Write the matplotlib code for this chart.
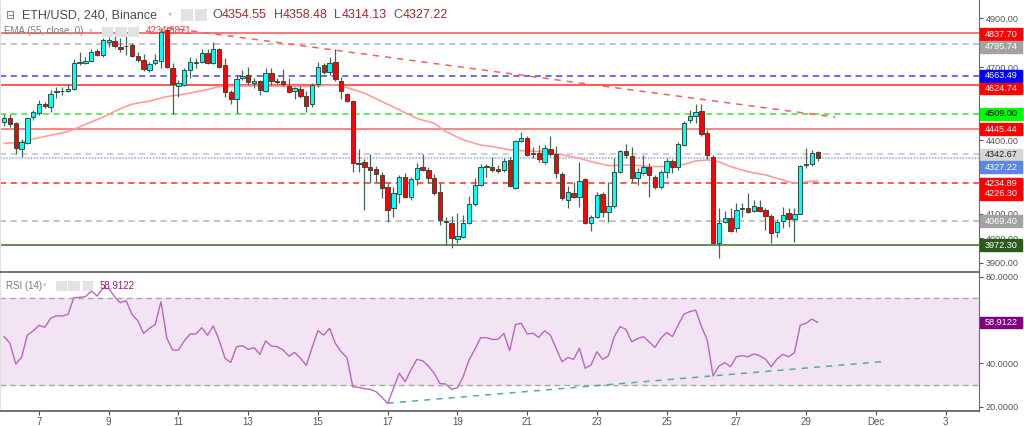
import numpy as np
import matplotlib
matplotlib.use('Agg')
import matplotlib.pyplot as plt
from matplotlib.patches import Rectangle

plt.rcParams['font.family'] = ['Liberation Sans', 'DejaVu Sans']

# ---------------- data (4h candles, ETH/USD Binance) ----------------
opens = [4474, 4490, 4470, 4364, 4388, 4495, 4511, 4550, 4538, 4597,
         4600, 4600, 4610, 4718, 4715, 4725, 4766, 4748, 4801, 4807,
         4782, 4784, 4790, 4747, 4729, 4688, 4715, 4726, 4852, 4695,
         4623, 4627, 4688, 4718, 4719, 4759, 4715, 4773, 4709, 4597,
         4570, 4654, 4668, 4634, 4644, 4602, 4674, 4642, 4642, 4623,
         4600, 4610, 4582, 4548, 4630, 4709, 4679, 4722, 4644, 4590,
         4561, 4306, 4311, 4291, 4283, 4259, 4208, 4125, 4182, 4252,
         4170, 4241, 4291, 4278, 4245, 4188, 4072, 4061, 3997, 4007,
         4061, 4139, 4218, 4293, 4293, 4282, 4279, 4320, 4204, 4398,
         4411, 4343, 4347, 4313, 4364, 4343, 4261, 4157, 4184, 4170,
         4241, 4061, 4088, 4180, 4106, 4133, 4270, 4357, 4338, 4245,
         4266, 4290, 4249, 4211, 4270, 4317, 4293, 4381, 4482, 4501,
         4522, 4429, 4334, 3979, 4068, 4082, 4041, 4121, 4125, 4113,
         4129, 4116, 4092, 4024, 4071, 4102, 4079, 4099, 4298, 4302,
         4354.55]
highs = [4507, 4508, 4477, 4406, 4493, 4525, 4565, 4556, 4606, 4620,
         4620, 4630, 4733, 4760, 4739, 4773, 4773, 4818, 4824, 4831,
         4818, 4831, 4797, 4760, 4752, 4722, 4752, 4861, 4861, 4718,
         4647, 4695, 4739, 4736, 4773, 4773, 4804, 4779, 4736, 4606,
         4668, 4688, 4702, 4654, 4647, 4698, 4698, 4654, 4692, 4654,
         4620, 4624, 4600, 4634, 4719, 4718, 4743, 4773, 4661, 4595,
         4565, 4364, 4324, 4343, 4297, 4272, 4225, 4211, 4259, 4266,
         4252, 4306, 4343, 4293, 4261, 4227, 4088, 4091, 4102, 4095,
         4173, 4245, 4302, 4302, 4334, 4300, 4327, 4334, 4402, 4433,
         4416, 4375, 4381, 4381, 4420, 4377, 4270, 4215, 4231, 4311,
         4245, 4095, 4188, 4191, 4231, 4327, 4361, 4384, 4371, 4286,
         4341, 4306, 4259, 4279, 4330, 4324, 4395, 4480, 4525, 4548,
         4548, 4443, 4341, 4122, 4112, 4122, 4146, 4143, 4184, 4157,
         4157, 4122, 4098, 4079, 4129, 4122, 4125, 4300, 4368, 4361,
         4358.48]
lows = [4460, 4456, 4343, 4334, 4384, 4484, 4504, 4534, 4518, 4575,
        4586, 4597, 4606, 4709, 4711, 4719, 4747, 4743, 4781, 4779,
        4763, 4749, 4739, 4719, 4684, 4681, 4709, 4698, 4695, 4508,
        4579, 4623, 4657, 4698, 4715, 4711, 4711, 4695, 4579, 4548,
        4514, 4647, 4627, 4616, 4586, 4597, 4627, 4630, 4624, 4593,
        4570, 4575, 4518, 4538, 4620, 4670, 4668, 4644, 4570, 4556,
        4270, 4272, 4116, 4225, 4231, 4166, 4068, 4088, 4143, 4163,
        4157, 4218, 4275, 4227, 4177, 4054, 3973, 3962, 3979, 4003,
        4057, 4133, 4215, 4252, 4272, 4266, 4272, 4211, 4202, 4392,
        4338, 4327, 4313, 4304, 4338, 4245, 4157, 4125, 4166, 4129,
        4057, 4030, 4084, 4088, 4065, 4122, 4266, 4327, 4231, 4218,
        4259, 4170, 4202, 4202, 4248, 4266, 4279, 4379, 4470, 4470,
        4420, 4323, 3979, 3918, 4061, 4027, 4027, 4088, 4102, 4109,
        4109, 4034, 3982, 4007, 4043, 4047, 3986, 4098, 4286, 4297,
        4314.13]
closes = [4490, 4467, 4370, 4395, 4490, 4518, 4548, 4540, 4589, 4602,
          4601, 4610, 4715, 4719, 4726, 4763, 4749, 4809, 4811, 4784,
          4773, 4785, 4747, 4729, 4691, 4711, 4729, 4845, 4702, 4630,
          4634, 4688, 4719, 4718, 4756, 4715, 4773, 4702, 4597, 4570,
          4651, 4664, 4638, 4644, 4606, 4674, 4643, 4640, 4630, 4597,
          4613, 4583, 4542, 4627, 4700, 4679, 4718, 4651, 4600, 4561,
          4309, 4305, 4290, 4281, 4262, 4204, 4116, 4187, 4249, 4169,
          4242, 4289, 4278, 4245, 4184, 4075, 4065, 4003, 4011, 4061,
          4139, 4218, 4293, 4291, 4278, 4276, 4316, 4215, 4398, 4409,
          4340, 4350, 4324, 4368, 4343, 4266, 4163, 4188, 4170, 4236,
          4061, 4086, 4177, 4109, 4131, 4272, 4357, 4341, 4245, 4270,
          4290, 4259, 4211, 4270, 4316, 4291, 4384, 4473, 4501, 4518,
          4426, 4341, 3982, 4061, 4082, 4031, 4114, 4122, 4109, 4132,
          4113, 4091, 4020, 4068, 4095, 4079, 4098, 4296, 4302, 4350,
          4327.22]
rsi = [52.4, 49.3, 39.8, 42.8, 53.1, 55.0, 57.6, 56.7, 60.8, 62.0,
       61.9, 62.6, 70.3, 70.5, 70.8, 73.4, 71.1, 74.6, 74.6, 70.8,
       68.0, 68.9, 62.6, 59.7, 53.9, 56.2, 58.0, 68.5, 51.6, 46.2,
       46.2, 50.4, 53.6, 53.6, 56.5, 53.0, 57.3, 50.8, 42.4, 40.5,
       47.7, 48.2, 46.5, 47.3, 44.2, 50.4, 48.0, 47.7, 46.2, 43.4,
       45.1, 42.4, 39.1, 47.4, 55.1, 53.1, 56.2, 49.3, 45.4, 42.7,
       29.3, 29.0, 28.4, 28.1, 27.0, 24.4, 21.6, 28.5, 35.5, 31.6,
       37.0, 41.9, 41.3, 38.8, 35.5, 30.8, 30.5, 28.1, 28.8, 33.9,
       41.6, 46.5, 51.9, 51.9, 51.1, 51.1, 53.9, 45.9, 58.0, 58.5,
       53.6, 53.9, 52.0, 55.1, 53.1, 47.0, 40.8, 42.8, 41.9, 47.0,
       37.8, 39.3, 45.4, 41.9, 43.6, 52.4, 57.0, 55.7, 50.0, 51.4,
       52.4, 50.0, 47.4, 51.6, 54.3, 52.4, 57.7, 62.8, 63.9, 64.6,
       57.0, 50.8, 34.2, 38.8, 40.4, 38.5, 43.1, 43.6, 43.1, 44.4,
       43.6, 42.1, 38.5, 42.1, 44.2, 43.1, 45.0, 57.7, 58.5, 60.5,
       58.9122]
# EMA(55) read at selected candle indices
ema_index = [0, 3, 5, 11, 17, 20, 22, 25, 28, 31, 35, 37, 43, 52, 57, 59,
             62, 65, 68, 71, 74, 76, 79, 82, 84, 87, 90, 93, 96, 99, 101,
             104, 108, 111, 114, 117, 119, 121, 123, 125, 128, 131, 134,
             136, 138, 140]
ema_values = [4388, 4392, 4406, 4436, 4495, 4530, 4548, 4561, 4579, 4589,
              4608, 4620, 4623, 4620, 4627, 4616, 4593, 4559, 4525, 4490,
              4470, 4436, 4402, 4381, 4375, 4361, 4357, 4354, 4341, 4327,
              4313, 4297, 4300, 4293, 4293, 4302, 4316, 4320, 4313, 4293,
              4272, 4259, 4238, 4225, 4231, 4234.89]

first_day = 6.0          # Nov 6, 00:00
candles_per_day = 6

# horizontal drawings on the price pane
level_prices = [4837.70, 4795.74, 4663.49, 4624.74, 4509.00, 4445.44,
                4342.67, 4327.22, 4226.30, 4069.40, 3972.30]
level_colors = ['#ff5050', '#b4b4b4', '#4040ff', '#ff2a2a', '#30e830',
                '#ff6060', '#c4c4c4', '#8aa6f0', '#ff2a2a', '#b4b4b4', '#3f6b2c']
level_styles = ['-', (0, (4, 3)), (0, (4, 3)), '-', (0, (4, 3)), '-',
                (0, (4, 3)), (0, (1, 1)), (0, (4, 3)), (0, (4, 3)), '-']

# descending trend line (day, price)
trend_days = [10.67, 29.83]
trend_prices = [4861, 4495]
# RSI rising trend line (day, rsi)
rsi_trend_days = [17.0, 31.15]
rsi_trend_vals = [21.7, 40.8]

# right-axis value labels
label_texts = ['4837.70', '4795.74', '4663.49', '4624.74', '4509.00', '4445.44',
               '4342.67', '4327.22', '4234.89', '4226.30', '4069.40', '3972.30']
label_prices = [4837.70, 4795.74, 4663.49, 4624.74, 4509.00, 4445.44,
                4342.67, 4327.22, 4234.89, 4226.30, 4069.40, 3972.30]
label_bg = ['#ff0000', '#a3a3a3', '#0000ff', '#ff0000', '#00ff00', '#ff0000',
            '#d6d6d6', '#5b86e5', '#ff0000', '#ff0000', '#a3a3a3', '#2c5a1c']
label_fg = ['white', 'white', 'white', 'white', 'black', 'white',
            '#222222', 'white', 'white', 'white', 'white', 'white']
label_nudge_px = [0.7, 3.2, 0, 3, 0, 0, 0, 9, 2.6, 11, 0, 0]

price_ticks = [3900, 4000, 4100, 4400, 4700, 4900]
rsi_ticks = [20, 40, 80]
date_ticks = [7, 9, 11, 13, 15, 17, 19, 21, 23, 25, 27, 29, 31, 33]
date_labels = ['7', '9', '11', '13', '15', '17', '19', '21', '23', '25',
               '27', '29', 'Dec', '3']

symbol_title = 'ETH/USD, 240, Binance'
ohlc_names = ['O', 'H', 'L', 'C']
ohlc_last = ['4354.55', '4358.48', '4314.13', '4327.22']
ema_title = 'EMA (55, close, 0)'
ema_last = '4234.8871'
rsi_title = 'RSI (14)'
rsi_last = '58.9122'

# ---------------- figure ----------------
W, H = 1024, 426
fig = plt.figure(figsize=(W / 100, H / 100), dpi=100)
fig.patch.set_facecolor('white')


def frect(x0, y0, x1, y1):
    return [x0 / W, 1 - y1 / H, (x1 - x0) / W, (y1 - y0) / H]


ax = fig.add_axes(frect(0, 0, 979, 272))
ax2 = fig.add_axes(frect(0, 273, 979, 411))
XL = (5.882, 33.96)
YL = (3862, 4974)
RL = (18.1, 81.7)
for a in (ax, ax2):
    a.set_xlim(*XL)
    a.set_facecolor('white')

ax.set_ylim(*YL)
ax2.set_ylim(*RL)

o = np.array(opens, float)
h = np.array(highs, float)
l = np.array(lows, float)
c = np.array(closes, float)
x = first_day + np.arange(len(c)) / candles_per_day
up = c >= o

# horizontal levels
for p, col, ls in zip(level_prices, level_colors, level_styles):
    ax.axhline(p, color=col, ls=ls, lw=1.1, zorder=1)

# EMA
ax.plot(first_day + np.array(ema_index) / candles_per_day, ema_values,
        color='#ff9c9c', lw=1.2, zorder=1.5)

# trend line
ax.plot(trend_days, trend_prices, color='#ff5a5a', ls=(0, (4, 4)), lw=1.1, zorder=1.6)

# candles
wick_col = '#456652'
ax.vlines(x, l, h, colors=wick_col, lw=0.9, zorder=2)
bb = np.minimum(o, c)
bh = np.maximum(np.abs(c - o), 2.5)
ax.bar(x[up], bh[up], bottom=bb[up], width=0.125, color='#00ffff',
       edgecolor='#2f5040', linewidth=0.7, zorder=3)
ax.bar(x[~up], bh[~up], bottom=bb[~up], width=0.125, color='#ff0000',
       edgecolor='#3a4a3a', linewidth=0.7, zorder=3)

# axes styling
ax.yaxis.tick_right()
ax.set_yticks(price_ticks)
ax.set_yticklabels([f'{v:.2f}' for v in price_ticks])
ax.tick_params(axis='y', length=3, width=0.8, colors='#555555', labelsize=6.6, pad=2)
ax.tick_params(axis='x', bottom=False, labelbottom=False)
ax.spines['top'].set_visible(False)
ax.spines['left'].set_color('#e0e0e0')
ax.spines['right'].set_color('#6a6a6a')
ax.spines['bottom'].set_color('#5a5a5a')
ax.spines['bottom'].set_linewidth(1.2)

# RSI pane
ax2.axhspan(30, 70, color='#f2e4f2', zorder=0)
ax2.axhline(70, color='#a8a8a8', ls=(0, (4, 3)), lw=1, zorder=1)
ax2.axhline(30, color='#a8a8a8', ls=(0, (4, 3)), lw=1, zorder=1)
ax2.plot(x, rsi, color='#bb66c4', lw=1.0, zorder=3)
ax2.plot(rsi_trend_days, rsi_trend_vals, color='#4fb0a0', ls=(0, (4, 4)), lw=1.1, zorder=2)
ax2.yaxis.tick_right()
ax2.set_yticks(rsi_ticks)
ax2.set_yticklabels([f'{v:.4f}' for v in rsi_ticks])
ax2.tick_params(axis='y', length=3, width=0.8, colors='#555555', labelsize=6.6, pad=2)
ax2.set_xticks(date_ticks)
ax2.set_xticklabels(date_labels)
ax2.tick_params(axis='x', length=3, width=0.8, colors='#555555', labelsize=7, pad=1.5)
ax2.spines['top'].set_visible(False)
ax2.spines['left'].set_color('#e0e0e0')
ax2.spines['right'].set_color('#6a6a6a')
ax2.spines['bottom'].set_color('#5a5a5a')
ax2.spines['bottom'].set_linewidth(1.2)

# right value labels (price pane)
axR = fig.add_axes(frect(979, 0, 1024, 272))
axR.set_ylim(*YL)
axR.set_xlim(0, 1)
axR.axis('off')
ppx = (YL[1] - YL[0]) / 272.0
for t, p, bg, fg, nd in zip(label_texts, label_prices, label_bg, label_fg, label_nudge_px):
    yc = p - nd * ppx
    axR.add_patch(Rectangle((0.03, yc - 5.8 * ppx), 0.92, 11.6 * ppx, color=bg, zorder=5, clip_on=False))
    axR.text(0.49, yc, t, color=fg, fontsize=6.6, ha='center', va='center', zorder=6)

# right value label (RSI pane)
axR2 = fig.add_axes(frect(979, 273, 1024, 411))
axR2.set_ylim(*RL)
axR2.set_xlim(0, 1)
axR2.axis('off')
rpx = (RL[1] - RL[0]) / 138.0
axR2.add_patch(Rectangle((0.03, rsi[-1] - 5.5 * rpx), 0.92, 11 * rpx, color='#800080', zorder=5))
axR2.text(0.49, rsi[-1], rsi_last, color='white', fontsize=6.6, ha='center', va='center', zorder=6)


# ---------------- legends / header ----------------
def fx(px):
    return px / W


def fy(py):
    return 1 - py / H


def icon(x0, y0, x1, y1, fc='#e2e2e2'):
    fig.add_artist(Rectangle((fx(x0), fy(y1)), (x1 - x0) / W, (y1 - y0) / H,
                             transform=fig.transFigure, fc=fc, ec='none', zorder=20))


# symbol header
fig.add_artist(Rectangle((fx(7), fy(18)), 6 / W, 7 / H, transform=fig.transFigure,
                         fc='white', ec='#8a8a8a', lw=0.8, zorder=20))
fig.add_artist(plt.Line2D([fx(8.5), fx(11.5)], [fy(14.5), fy(14.5)],
                          transform=fig.transFigure, color='#8a8a8a', lw=0.8, zorder=21))
fig.text(fx(22), fy(15), symbol_title, fontsize=9, color='#4a4a4a', va='center', zorder=20)
fig.text(fx(168), fy(14), '▾', fontsize=6, color='#c8c8c8', va='center',
         family='DejaVu Sans', zorder=20)
icon(181, 9, 193, 21)
icon(195, 9, 207, 21)

prev = None
for nm, val in zip(ohlc_names, ohlc_last):
    if prev is None:
        t = fig.text(fx(212), fy(15), nm, fontsize=9, color='#555555', va='center', zorder=20)
    else:
        t = ax.annotate(nm, xy=(1, 0), xycoords=prev, xytext=(5, 0), textcoords='offset points',
                        fontsize=9, color='#555555', va='bottom', annotation_clip=False, zorder=20)
    prev = ax.annotate(val, xy=(1, 0), xycoords=t, xytext=(0, 0), textcoords='offset points',
                       fontsize=9, color='#9b2d2d', va='bottom', annotation_clip=False, zorder=20)

# EMA legend
fig.text(fx(4), fy(31.5), ema_title, fontsize=7, color='#7a7a7a', va='center', zorder=20)
fig.text(fx(89), fy(31), '▾', fontsize=5, color='#c8c8c8', va='center',
         family='DejaVu Sans', zorder=20)
icon(102, 27, 113, 37)
icon(115, 27, 127, 37)
icon(128, 27, 139, 37)
fig.text(fx(146), fy(31.5), ema_last, fontsize=7, color='#ff3b3b', va='center', zorder=20)

# RSI legend
fig.text(fx(6), fy(286), rsi_title, fontsize=7, color='#7a7a7a', va='center', zorder=20)
fig.text(fx(43), fy(285.5), '▾', fontsize=5, color='#c8c8c8', va='center',
         family='DejaVu Sans', zorder=20)
icon(56, 281, 67, 291)
icon(68, 281, 80, 291)
icon(83, 281, 93, 291)
fig.text(fx(100), fy(286), rsi_last, fontsize=7, color='#8b1a8b', va='center', zorder=20)

fig.savefig('out.png', dpi=100)
